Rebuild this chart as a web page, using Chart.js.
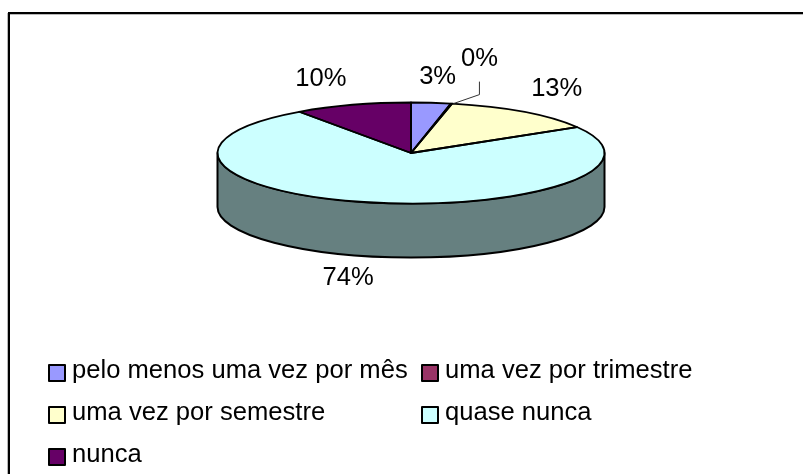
<!DOCTYPE html>
<html>
<head>
<meta charset="utf-8">
<style>html,body{margin:0;padding:0;background:#fff}canvas{display:block}</style>
<script src="https://cdn.jsdelivr.net/npm/chart.js@4/dist/chart.umd.min.js"></script>
</head>
<body>
<canvas id="c" width="803" height="474"></canvas>
<script>
const categories = ['pelo menos uma vez por mês','uma vez por trimestre','uma vez por semestre','quase nunca','nunca'];
const values = [3.3, 0.1, 13, 73.8, 9.8];
const colors = ['#9999FF','#993366','#FFFFCC','#CCFFFF','#660066'];
const sideColors = ['#4D4D80','#4D1A33','#808066','#668080','#330033'];

const FONT = '25.6px "Liberation Sans", Arial, sans-serif';
const TILT = 50.5 / 193.5, TOP_Y = 153, DEPTH = 54;
const LABEL_OFFSET = [[6.6,-26],[28,-45],[33,-23],[-23,76],[-31.5,-26]];
const LEGEND_COLS = [48, 421], LEGEND_ROWS = [364, 406, 448];

function arcs(chart){ return chart.getDatasetMeta(0).data; }
function rimPoint(el, a){
  const r = el.outerRadius;
  return [el.x + r*Math.cos(a), TOP_Y + r*TILT*Math.sin(a)];
}

const pie3d = {
  id: 'pie3d',
  beforeDraw(chart){
    const ctx = chart.ctx, W = chart.width, H = chart.height;
    ctx.save();
    ctx.fillStyle = '#fff'; ctx.fillRect(0,0,W,H);
    ctx.fillStyle = '#b8b8b8';
    ctx.fillRect(7,13,1,H-13); ctx.fillRect(8,14,W-8,1);
    ctx.fillStyle = '#000';
    ctx.fillRect(8,12,W-8,2); ctx.fillRect(8,12,2,H-12);
    ctx.restore();
  },
  beforeDatasetsDraw(chart){
    const ctx = chart.ctx;
    // side wall of the disc: the front half of every slice
    ctx.save();
    ctx.lineWidth = 2; ctx.strokeStyle = '#000'; ctx.lineJoin = 'round';
    arcs(chart).forEach((el,i)=>{
      const a = Math.max(el.startAngle, 0), b = Math.min(el.endAngle, Math.PI);
      if (b <= a) return;
      const r = el.outerRadius, ry = r*TILT;
      ctx.beginPath();
      ctx.ellipse(el.x, TOP_Y, r, ry, 0, a, b);
      ctx.ellipse(el.x, TOP_Y+DEPTH, r, ry, 0, b, a, true);
      ctx.closePath();
      ctx.fillStyle = sideColors[i];
      ctx.fill(); ctx.stroke();
    });
    ctx.restore();
    // squash the library's own arcs into the tilted disc
    const el0 = arcs(chart)[0];
    ctx.save();
    ctx.translate(el0.x, TOP_Y);
    ctx.scale(1, TILT);
    ctx.translate(-el0.x, -el0.y);
  },
  afterDatasetsDraw(chart){
    const ctx = chart.ctx;
    ctx.restore();
    ctx.save();
    ctx.lineWidth = 1.8; ctx.strokeStyle = '#000'; ctx.lineJoin = 'round';
    arcs(chart).forEach(el=>{
      const r = el.outerRadius;
      ctx.beginPath();
      ctx.moveTo(el.x, TOP_Y);
      ctx.ellipse(el.x, TOP_Y, r, r*TILT, 0, el.startAngle, el.endAngle);
      ctx.closePath();
      ctx.stroke();
    });
    // value labels
    ctx.font = FONT; ctx.fillStyle = '#000';
    ctx.textAlign = 'center'; ctx.textBaseline = 'middle';
    const total = values.reduce((s,v)=>s+v,0);
    arcs(chart).forEach((el,i)=>{
      const mid = (el.startAngle+el.endAngle)/2;
      const p = rimPoint(el, mid);
      const lx = p[0]+LABEL_OFFSET[i][0], ly = p[1]+LABEL_OFFSET[i][1];
      ctx.fillText(Math.round(values[i]/total*100)+'%', lx, ly);
      if (i === 1){
        ctx.save();
        ctx.lineWidth = 1; ctx.strokeStyle = '#333';
        ctx.beginPath();
        ctx.moveTo(lx, ly+23); ctx.lineTo(lx, ly+36); ctx.lineTo(p[0]+2, p[1]);
        ctx.stroke();
        ctx.restore();
      }
    });
    // legend
    ctx.textAlign = 'left'; ctx.textBaseline = 'alphabetic';
    categories.forEach((name,i)=>{
      const x = LEGEND_COLS[i%2], y = LEGEND_ROWS[Math.floor(i/2)];
      ctx.fillStyle = colors[i];
      ctx.fillRect(x+1, y+1, 16, 16);
      ctx.lineWidth = 2; ctx.strokeStyle = '#000';
      ctx.strokeRect(x+1, y+1, 16, 16);
      ctx.fillStyle = '#000';
      ctx.fillText(name, x+24, y+14);
    });
    ctx.restore();
  }
};

new Chart(document.getElementById('c'), {
  type: 'pie',
  data: { labels: categories, datasets: [{ data: values, backgroundColor: colors, borderWidth: 0 }] },
  options: {
    responsive: false, animation: false,
    layout: { padding: { left: 217.5, right: 198.5, top: 40, bottom: 47 } },
    plugins: { legend: { display: false }, tooltip: { enabled: false } }
  },
  plugins: [pie3d]
});
</script>
</body>
</html>
